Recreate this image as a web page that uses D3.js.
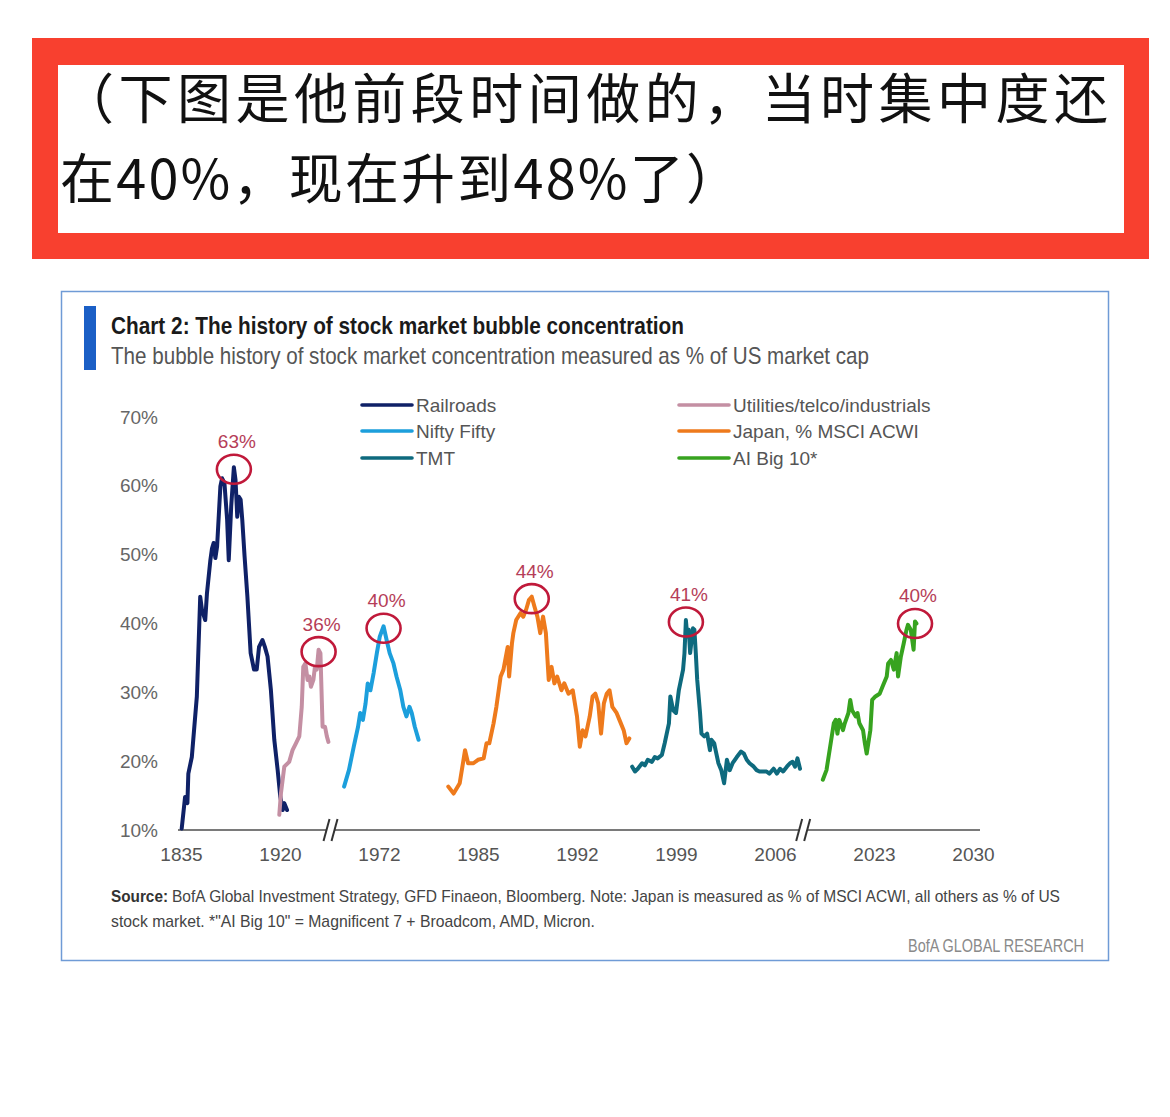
<!DOCTYPE html>
<html><head><meta charset="utf-8">
<script src="https://cdn.jsdelivr.net/npm/d3@7"></script>
<style>body{margin:0;background:#fff}</style>
</head><body><svg id="c" width="1170" height="1117"></svg>
<script>
// ---------- DATA ----------
const captionLines = ["（下图是他前段时间做的，当时集中度还", "在40%，现在升到48%了）"];
const chartTitle = "Chart 2: The history of stock market bubble concentration";
const chartSubtitle = "The bubble history of stock market concentration measured as % of US market cap";
const sourceBold = "Source:";
const sourceLine1 = "BofA Global Investment Strategy, GFD Finaeon, Bloomberg. Note: Japan is measured as % of MSCI ACWI, all others as % of US";
const sourceLine2 = "stock market. *\"AI Big 10\" = Magnificent 7 + Broadcom, AMD, Micron.";
const brandText = "BofA GLOBAL RESEARCH";

const xTickLabels = ["1835","1920","1972","1985","1992","1999","2006","2023","2030"];
const yTicks = [10,20,30,40,50,60,70];
// piecewise (broken) time axis: year -> tick-index position
const axisAnchorYears = [1835,1920,1936,1964,1972,1985,1992,1999,2006,2010,2019.5,2023,2030];
const axisAnchorIdx   = [0,1,1.495,1.566,2,3,4,5,6,6.2525,6.354,7,8];
const axisBreakYears = [1942, 2013];

const seriesNames = ["Railroads","Utilities/telco/industrials","Nifty Fifty","Japan, % MSCI ACWI","TMT","AI Big 10*"];
const peakLabels = ["63%","36%","40%","44%","41%","40%"];

const railroadsYears = [1835.6,1838.5,1840.5,1841.3,1844.3,1848.6,1851.5,1853,1855.8,1857.3,1860.2,1861.6,1863,1864.5,1866,1868.8,1870.3,1872.3,1874.6,1876,1878.1,1880.4,1881.8,1883.3,1884.7,1886.2,1887.6,1889.6,1892,1894.8,1897.7,1900,1902,1905,1907,1909.3,1912.2,1915.1,1918,1920.1,1920.9,1921.4,1922.3];
const railroadsValues = [10.2,14.8,13.9,18.2,20.6,29.4,43.9,42,40.5,44.4,49.2,50.9,51.7,49.5,51.2,59.9,61.1,60.4,55.1,49.2,57,62.7,60.9,55.5,58.4,58,55.1,49.7,43.9,35.7,33.3,33.3,36.6,37.6,36.6,35.2,30.3,23.1,18.7,14.8,12.9,13.9,12.9];

const utilitiesYears = [1919.4,1920.3,1921.4,1923,1924.1,1925.2,1926.3,1927.1,1927.6,1928.3,1929,1929.6,1930.1,1930.9,1931.4,1932,1932.6,1933.2,1933.9,1934.7,1935.3,1935.8];
const utilitiesValues = [12.2,15.3,19.2,19.9,21.6,22.6,23.6,27.9,33.7,34.2,31.8,32.3,30.8,31.8,33.7,33.3,36.2,35.7,25,25,23.6,22.8];

const niftyYears = [1965.5,1966.4,1967.3,1968.1,1968.5,1969,1969.5,1969.9,1970.4,1971,1971.6,1972.1,1972.6,1973,1973.4,1973.9,1974.3,1974.8,1975.2,1975.6,1976,1976.3,1976.7,1977.2];
const niftyValues = [16.3,18.7,22.1,25,27,26,28.4,31.3,30.3,32.8,35.7,38.1,39.6,37.6,35.7,34.2,32.3,30.3,27.9,26.5,27.9,27,25,23.1];

const japanYears = [1981.1,1981.8,1982.6,1983.3,1983.7,1984.4,1985,1985.4,1985.6,1985.8,1986.1,1986.3,1986.6,1986.8,1987.1,1987.2,1987.4,1987.5,1987.7,1988,1988.2,1988.4,1988.6,1988.8,1989,1989.2,1989.4,1989.6,1989.8,1990,1990.2,1990.4,1990.6,1990.9,1991.1,1991.4,1991.7,1992,1992.2,1992.4,1992.6,1992.9,1993.1,1993.3,1993.5,1993.7,1993.9,1994.1,1994.3,1994.5,1994.8,1995,1995.3,1995.5,1995.7];
const japanValues = [16.3,15.3,16.8,21.6,19.7,19.7,20.2,20.4,22.6,22.6,25.5,27.9,32.3,33.3,36.6,32.3,37.1,38.6,40.5,41.5,41,42,43.4,43.9,42.4,41,38.6,41,38.6,31.8,33.7,31.3,32.3,30.3,31.3,29.8,30.3,26.5,22.1,24.5,23.6,26.5,29.4,29.8,28.4,24,28.4,29.8,30.3,27.9,27,26,24.5,22.6,23.3];

const tmtYears = [1995.9,1996.1,1996.3,1996.6,1996.8,1997,1997.3,1997.5,1997.7,1998,1998.2,1998.5,1998.6,1998.8,1999,1999.2,1999.3,1999.5,1999.6,1999.7,1999.8,1999.9,2000,2000.2,2000.3,2000.4,2000.5,2000.7,2000.8,2001,2001.2,2001.4,2001.5,2001.7,2001.8,2002,2002.2,2002.4,2002.6,2002.8,2003,2003.3,2003.6,2003.8,2004,2004.2,2004.5,2004.7,2004.9,2005.2,2005.4,2005.6,2005.9,2006.3,2006.8,2007.3,2007.9,2008.4,2008.8,2009.2,2009.6,2010];
const tmtValues = [19.2,18.5,18.9,19.7,19.4,20.2,19.9,20.6,20.4,20.9,22.6,25.5,29.4,27.4,27,30.3,31.3,33.3,35.7,40.5,38.1,39.1,35.7,39.3,39.1,35.7,31.8,27,24,23.6,24,21.6,23.1,22.6,21.6,19.7,18.7,16.8,20.2,18.7,19.7,20.6,21.4,21.1,20.2,19.7,19.2,18.7,18.5,18.5,18.5,18.2,18.9,18.2,18.9,18.5,19.2,19.7,19.9,19.2,20.4,18.9];

const aiYears = [2020.2,2020.4,2020.6,2020.8,2020.9,2021,2021.1,2021.3,2021.4,2021.6,2021.7,2021.8,2022,2022.1,2022.2,2022.4,2022.5,2022.6,2022.8,2022.9,2023.1,2023.4,2023.6,2023.9,2024,2024.2,2024.4,2024.6,2024.7,2024.9,2025.1,2025.3,2025.4,2025.6,2025.8,2025.9,2026];
const aiValues = [17.3,18.7,22.1,25.5,26,24,26,24.5,25.5,27,28.9,27.4,26.5,27,25.5,24.5,22.6,21.1,24.5,28.9,29.4,29.8,30.8,32.3,34.2,34.7,33.3,35.7,32.3,35.2,37.1,39.1,39.8,39.1,36.2,40.3,40];

const seriesYears = [railroadsYears, utilitiesYears, niftyYears, japanYears, tmtYears, aiYears];
const seriesValues = [railroadsValues, utilitiesValues, niftyValues, japanValues, tmtValues, aiValues];
const seriesColors = ["#0f2167","#c48fa3","#1c9fdc","#ee7a1c","#0e6a7e","#37a31f"];

// ---------- DRAW ----------
const svg = d3.select("#c");
const narrow = "'Liberation Sans Narrow','Arial Narrow','Liberation Sans',sans-serif";
const sans = "'Liberation Sans',Arial,sans-serif";

// caption box
svg.append("rect").attr("x",32).attr("y",38).attr("width",1117).attr("height",221).attr("fill","#f8402f");
svg.append("rect").attr("x",58).attr("y",65).attr("width",1066).attr("height",168).attr("fill","#fff");
svg.append("text").attr("x",60).attr("y",119).text(captionLines[0])
  .attr("font-family","'Noto Sans CJK SC',sans-serif").attr("font-size",54).attr("fill","#111")
  .attr("textLength",1048).attr("lengthAdjust","spacing");
svg.append("text").attr("x",60).attr("y",199).text(captionLines[1])
  .attr("font-family","'Noto Sans CJK SC',sans-serif").attr("font-size",54).attr("fill","#111")
  .attr("textLength",680).attr("lengthAdjust","spacing");

// chart frame
svg.append("rect").attr("x",61.5).attr("y",291.5).attr("width",1047).attr("height",669)
  .attr("fill","#fff").attr("stroke","#6f9bd6").attr("stroke-width",1.5);
svg.append("rect").attr("x",84).attr("y",306).attr("width",12).attr("height",64).attr("fill","#1b5fc6");
svg.append("text").attr("x",111).attr("y",334).text(chartTitle)
  .attr("font-family",narrow).attr("font-weight","bold").attr("font-size",24).attr("fill","#1a1a1a")
  .attr("textLength",573).attr("lengthAdjust","spacingAndGlyphs");
svg.append("text").attr("x",111).attr("y",364).text(chartSubtitle)
  .attr("font-family",narrow).attr("font-size",24).attr("fill","#555")
  .attr("textLength",758).attr("lengthAdjust","spacingAndGlyphs");

// scales
const y = d3.scaleLinear().domain([10,70]).range([830,417]);
const xTick = d3.scaleLinear().domain([0, xTickLabels.length-1]).range([181,973]);
const xIdx = d3.scaleLinear().domain(axisAnchorYears).range(axisAnchorIdx);
const xs = yr => xTick(xIdx(yr));

// y axis
const gy = svg.append("g").attr("transform","translate(160,0)")
  .call(d3.axisLeft(y).tickValues(yTicks).tickFormat(d=>d+"%").tickSize(0).tickPadding(2));
gy.select(".domain").remove();
gy.selectAll("text").attr("font-family",sans).attr("font-size",19).attr("fill","#666");

// x axis
const gx = svg.append("g").attr("transform","translate(0,830)")
  .call(d3.axisBottom(xTick).tickValues(d3.range(xTickLabels.length)).tickFormat(i=>xTickLabels[i]).tickSize(0).tickPadding(18));
gx.select(".domain").remove();
gx.selectAll("text").attr("font-family",sans).attr("font-size",19).attr("fill","#555");
svg.append("line").attr("x1",xTick.range()[0]-3).attr("x2",xTick.range()[1]+7).attr("y1",830).attr("y2",830)
  .attr("stroke","#7a7a7a").attr("stroke-width",2);
axisBreakYears.forEach(yr=>{
  const cx = xs(yr);
  svg.append("rect").attr("x",cx-4).attr("y",826).attr("width",8).attr("height",8).attr("fill","#fff");
  [-4,4].forEach(o=>svg.append("line").attr("x1",cx+o-3).attr("y1",841).attr("x2",cx+o+3).attr("y2",819)
    .attr("stroke","#333").attr("stroke-width",2));
});

// lines
const line = d3.line().x(d=>xs(d[0])).y(d=>y(d[1]));
seriesNames.forEach((name,i)=>{
  const pts = d3.zip(seriesYears[i], seriesValues[i]);
  svg.append("path").datum(pts).attr("d",line).attr("fill","none")
    .attr("stroke",seriesColors[i]).attr("stroke-width",4)
    .attr("stroke-linejoin","round").attr("stroke-linecap","round");
});

// peak annotations
seriesNames.forEach((name,i)=>{
  const pts = d3.zip(seriesYears[i], seriesValues[i]);
  const pk = d3.greatest(pts, d=>d[1]);
  const cx = xs(pk[0]), cy = y(pk[1])+2;
  svg.append("ellipse").attr("cx",cx).attr("cy",cy).attr("rx",17).attr("ry",14.5)
    .attr("fill","none").attr("stroke","#c0193a").attr("stroke-width",2.6);
  svg.append("text").attr("x",cx+3).attr("y",cy-21).attr("text-anchor","middle").text(peakLabels[i])
    .attr("font-family",sans).attr("font-size",19).attr("fill","#b53d58");
});

// legend
const legendCols = [362,679], legendRows = [405,431,458];
seriesNames.forEach((name,i)=>{
  const lx = legendCols[i%2], ly = legendRows[Math.floor(i/2)];
  svg.append("line").attr("x1",lx).attr("x2",lx+50).attr("y1",ly).attr("y2",ly)
    .attr("stroke",seriesColors[i]).attr("stroke-width",3.6).attr("stroke-linecap","round");
  svg.append("text").attr("x",lx+54).attr("y",ly).attr("dy","0.35em").text(name)
    .attr("font-family",sans).attr("font-size",19).attr("fill","#555");
});

// source
svg.append("text").attr("x",111).attr("y",902).text(sourceBold)
  .attr("font-family",narrow).attr("font-weight","bold").attr("font-size",17).attr("fill","#333")
  .attr("textLength",57).attr("lengthAdjust","spacingAndGlyphs");
svg.append("text").attr("x",172).attr("y",902).text(sourceLine1)
  .attr("font-family",narrow).attr("font-size",17).attr("fill","#444")
  .attr("textLength",888).attr("lengthAdjust","spacingAndGlyphs");
svg.append("text").attr("x",111).attr("y",927).text(sourceLine2)
  .attr("font-family",narrow).attr("font-size",17).attr("fill","#444")
  .attr("textLength",484).attr("lengthAdjust","spacingAndGlyphs");
svg.append("text").attr("x",1084).attr("y",952).attr("text-anchor","end").text(brandText)
  .attr("font-family",narrow).attr("font-size",19).attr("fill","#8a8a8a")
  .attr("textLength",176).attr("lengthAdjust","spacingAndGlyphs");
</script></body></html>
